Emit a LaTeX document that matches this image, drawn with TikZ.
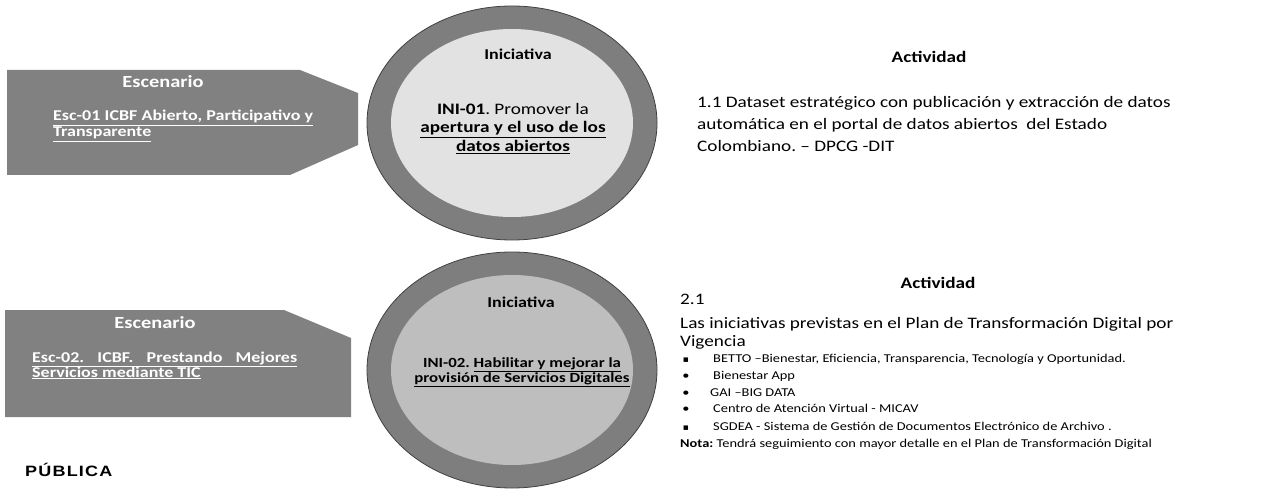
\documentclass[tikz,border=0pt]{standalone}
\usepackage{fontspec}
\setmainfont{Carlito}[FakeStretch=1.2]
\newfontfamily\arialfont{Liberation Sans}[LetterSpace=8,FakeStretch=1.2]
\newfontfamily\djv{DejaVu Sans}
\frenchspacing
\definecolor{escfill}{HTML}{818181}
\definecolor{ringfill}{HTML}{7E7E7E}
\definecolor{innerA}{HTML}{E2E2E2}
\definecolor{innerB}{HTML}{BEBEBE}
\tikzset{
  esctitle/.style={anchor=base, text=white, font=\fontsize{17}{17}\selectfont\bfseries, inner sep=0pt},
  esctext/.style={anchor=base west, text=white, font=\fontsize{15}{15}\selectfont\bfseries, inner sep=0pt},
  initle/.style={anchor=base, font=\fontsize{15}{15}\selectfont\bfseries, inner sep=0pt},
  intext/.style={anchor=base, font=\fontsize{16}{16}\selectfont, inner sep=0pt},
  intextsm/.style={anchor=base, font=\fontsize{14}{14}\selectfont\bfseries, inner sep=0pt},
  acttitle/.style={anchor=base, font=\fontsize{16}{16}\selectfont\bfseries, inner sep=0pt},
  acttext/.style={anchor=base west, font=\fontsize{16}{16}\selectfont, inner sep=0pt},
  bultext/.style={anchor=base west, font=\fontsize{12}{12}\selectfont, inner sep=0pt},
  bulmark/.style={anchor=base, font=\fontsize{12}{12}\selectfont, inner sep=0pt},
}
\begin{document}
\begin{tikzpicture}[x=1pt,y=-1pt]
\useasboundingbox (0,0) rectangle (1266,489);
\fill[white] (0,0) rectangle (1266,489);

% Escenario 1
\fill[escfill] (7,70) -- (300,70) -- (358,93) -- (358,145) -- (290,175) -- (7,175) -- cycle;
\node[esctitle] (e1t) at (163,88) {Escenario};
\node[esctext] (e1a) at (53,121) {\underline{\makebox[260pt][s]{Esc-01 ICBF Abierto, Participativo y}}};
\node[esctext] (e1b) at (53,137) {\underline{Transparente}};

% Escenario 2
\fill[escfill] (5,310) -- (284,310) -- (351,338) -- (351,417) -- (5,417) -- cycle;
\node[esctitle] (e2t) at (155,328) {Escenario};
\node[esctext] (e2a) at (32,362) {\underline{\makebox[265pt][s]{Esc-02. ICBF. Prestando Mejores}}};
\node[esctext] (e2b) at (32,377) {\underline{Servicios mediante TIC}};

% Iniciativa 1
\fill[ringfill, draw=black!75, line width=0.8pt] (512,123) ellipse [x radius=145pt, y radius=117pt];
\fill[innerA] (512,123) ellipse [x radius=121pt, y radius=94pt];
\node[initle] (i1t) at (518,60) {Iniciativa};
\node[intext] (i1a) at (513,115) {\textbf{INI-01}. Promover la};
\node[intext] (i1b) at (513,133) {\textbf{\underline{apertura y el uso de los}}};
\node[intext] (i1c) at (513,152) {\textbf{\underline{datos abiertos}}};

% Iniciativa 2
\fill[ringfill, draw=black!75, line width=0.8pt] (512,370) ellipse [x radius=145pt, y radius=118pt];
\fill[innerB] (512,370) ellipse [x radius=121pt, y radius=95pt];
\node[initle] (i2t) at (521,307) {Iniciativa};
\node[intextsm] (i2a) at (522,367) {INI-02. \underline{Habilitar y mejorar la}};
\node[intextsm] (i2b) at (522,382) {\underline{provisión de Servicios Digitales}};

% Actividad 1
\node[acttitle] (a1t) at (929,63) {Actividad};
\node[acttext] (a1a) at (697,108) {1.1 Dataset estratégico con publicación y extracción de datos};
\node[acttext] (a1b) at (697,130) {automática en el portal de datos abiertos\ \ del Estado};
\node[acttext] (a1c) at (697,152) {Colombiano. – DPCG -DIT};

% Actividad 2
\node[acttitle] (a2t) at (938,288) {Actividad};
\node[acttext] (a2n) at (680,304) {2.1};
\node[acttext] (a2a) at (680,328) {Las iniciativas previstas en el Plan de Transformación Digital por};
\node[acttext] (a2b) at (680,346) {Vigencia};
\node[bulmark] (b1m) at (686,362) {\djv\fontsize{9}{9}\selectfont ▪};
\node[bultext] (b1) at (713,362) {BETTO –Bienestar, Eficiencia, Transparencia, Tecnología y Oportunidad.};
\node[bulmark] (b2m) at (686,379) {•};
\node[bultext] (b2) at (713,379) {Bienestar App};
\node[bulmark] (b3m) at (686,396) {•};
\node[bultext] (b3) at (710,396) {GAI –BIG DATA};
\node[bulmark] (b4m) at (686,412) {•};
\node[bultext] (b4) at (713,412) {Centro de Atención Virtual - MICAV};
\node[bulmark] (b5m) at (686,430) {\djv\fontsize{9}{9}\selectfont ▪};
\node[bultext] (b5) at (713,430) {SGDEA - Sistema de Gestión de Documentos Electrónico de Archivo .};
\node[bultext] (nota) at (680,447) {\textbf{Nota:} Tendrá seguimiento con mayor detalle en el Plan de Transformación Digital};

% Pie
\node[anchor=base west, inner sep=0pt, font=\arialfont\bfseries\fontsize{15}{15}\selectfont] (pub) at (25,476) {PÚBLICA};
\end{tikzpicture}
\end{document}
